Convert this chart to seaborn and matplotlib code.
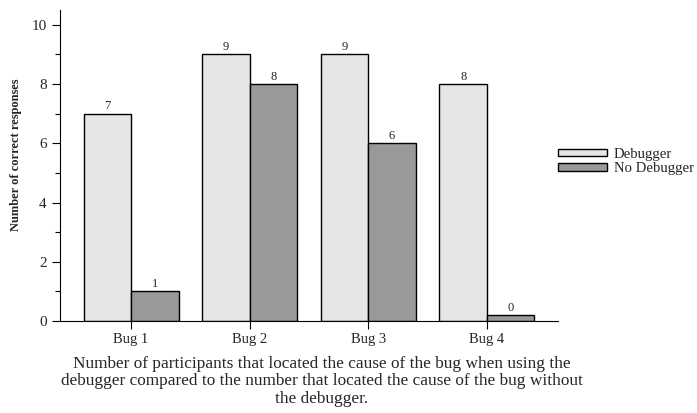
import numpy as np
import pandas as pd
import matplotlib
matplotlib.use("Agg")
import matplotlib.pyplot as plt
from matplotlib.ticker import MultipleLocator
import seaborn as sns

bugs = ["Bug 1", "Bug 2", "Bug 3", "Bug 4"]
debugger = [7, 9, 9, 8]
no_debugger = [1, 8, 6, 0]
series = ["Debugger", "No Debugger"]
colors = ["#e6e6e6", "#999999"]

sns.set_style("ticks")
plt.rcParams["font.family"] = ["Liberation Serif", "DejaVu Serif"]

df = pd.DataFrame({
    "bug": bugs * 2,
    "group": [series[0]] * 4 + [series[1]] * 4,
    "count": debugger + no_debugger,
})
# zero-count bars get a thin sliver so they remain visible
df["shown"] = np.maximum(df["count"], 0.2)

fig = plt.figure(figsize=(6.97, 4.13), dpi=100)
ax = fig.add_axes([0.086, 0.2228, 0.7146, 0.753])

sns.barplot(data=df, x="bug", y="shown", hue="group", hue_order=series,
            palette=colors, edgecolor="black", linewidth=1.0,
            width=0.8, saturation=1, ax=ax)

for cont, vals in zip(ax.containers, [debugger, no_debugger]):
    ax.bar_label(cont, labels=[str(v) for v in vals], padding=1, fontsize=9)

ax.set_xlim(-0.6, 3.6)
ax.set_ylim(0, 10.5)
ax.yaxis.set_major_locator(MultipleLocator(2))
ax.yaxis.set_minor_locator(MultipleLocator(1))
ax.tick_params(axis="y", which="major", length=6, width=0.8, labelsize=11, color="black")
ax.tick_params(axis="y", which="minor", length=3.5, width=0.8, color="black")
ax.tick_params(axis="x", length=5.5, width=0.8, labelsize=10.5, color="black", pad=3)
for s in ["top", "right"]:
    ax.spines[s].set_visible(False)
for s in ["left", "bottom"]:
    ax.spines[s].set_color("black")
    ax.spines[s].set_linewidth(0.8)

ax.set_xlabel("")
ax.set_ylabel("Number of correct responses", fontsize=9, fontweight="bold")
ax.yaxis.set_label_coords(-0.076, 0.534)

fig.text(0.462, 0.138,
         "Number of participants that located the cause of the bug when using the\n"
         "debugger compared to the number that located the cause of the bug without\n"
         "the debugger.",
         ha="center", va="top", multialignment="center",
         fontsize=12.4, linespacing=1.12)

handles, labels = ax.get_legend_handles_labels()
ax.get_legend().remove()
fig.legend(handles, labels, frameon=False, loc="center left",
           bbox_to_anchor=(0.8006, 0.609), fontsize=10.6,
           handlelength=3.35, handleheight=0.45, handletextpad=0.45,
           labelspacing=0.1, borderpad=0, borderaxespad=0)

fig.savefig("out.png", dpi=100)
